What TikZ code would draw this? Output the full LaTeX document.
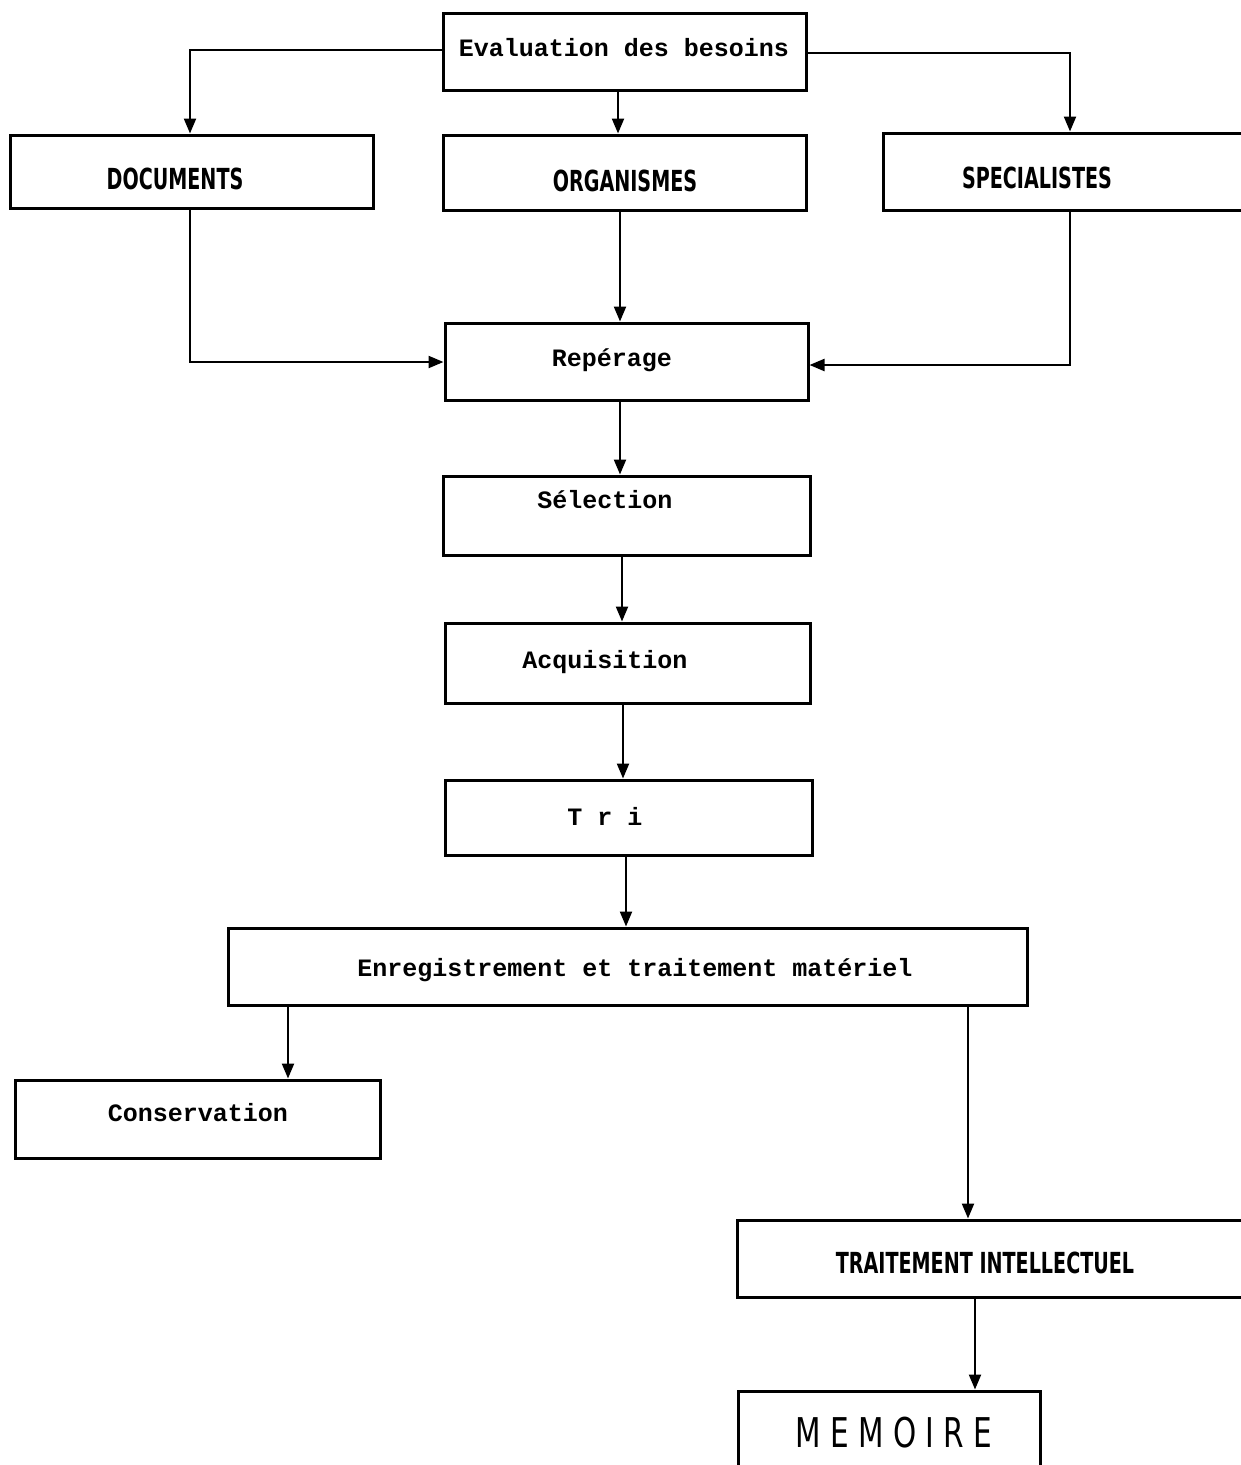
\documentclass[tikz,border=0pt]{standalone}
\usepackage{fontspec}
\usetikzlibrary{arrows.meta}
\newfontfamily\typew{Liberation Mono}
\newfontfamily\plotter[FakeStretch=0.66]{DejaVu Sans Bold}
\newfontfamily\plotterthin[FakeStretch=0.72]{DejaVu Sans}

\begin{document}
\begin{tikzpicture}[x=1pt,y=-1pt,
  box/.style={draw, line width=3pt, inner sep=0pt},
  tw/.style={font=\typew\bfseries\fontsize{25}{30}\selectfont, inner sep=0pt, anchor=base},
  pl/.style={font=\plotter\fontsize{29}{35}\selectfont, inner sep=0pt, anchor=base},
  big/.style={font=\plotterthin\fontsize{41}{48}\selectfont, inner sep=0pt, anchor=base},
  conn/.style={line width=2.2pt, -{Triangle[length=15pt,width=12pt]}},
]
\useasboundingbox (0,0) rectangle (1241,1465);
\clip (0,0) rectangle (1241,1465);

% boxes
\node[box, minimum width=363pt, minimum height=77pt] (eval) at (624.5,51.5) {};
\node[box, minimum width=363pt, minimum height=73pt] (doc)  at (191.5,171.5) {};
\node[box, minimum width=363pt, minimum height=75pt] (org)  at (624.5,172.5) {};
\node[box, minimum width=372pt, minimum height=77pt] (spec) at (1069,171.5) {};
\node[box, minimum width=363pt, minimum height=77pt] (rep)  at (626.5,361.5) {};
\node[box, minimum width=367pt, minimum height=79pt] (sel)  at (626.5,515.5) {};
\node[box, minimum width=365pt, minimum height=80pt] (acq)  at (627.5,663) {};
\node[box, minimum width=367pt, minimum height=75pt] (tri)  at (628.5,817.5) {};
\node[box, minimum width=799pt, minimum height=77pt] (enr)  at (627.5,966.5) {};
\node[box, minimum width=365pt, minimum height=78pt] (cons) at (197.5,1119) {};
\node[box, minimum width=520pt, minimum height=77pt] (ti)   at (997,1258.5) {};
\node[box, minimum width=302pt, minimum height=100pt] (mem) at (889,1441) {};

% labels
\node[tw] (tEval) at (624,56) {Evaluation des besoins};
\node[pl] (tDoc)  at (175,189) {DOCUMENTS};
\node[pl] (tOrg)  at (625,191) {ORGANISMES};
\node[pl] (tSpec) at (1037,188) {SPECIALISTES};
\node[tw] (tRep)  at (612,366) {Repérage};
\node[tw] (tSel)  at (605,508) {Sélection};
\node[tw] (tAcq)  at (605,668) {Acquisition};
\node[tw] (tTri)  at (605,825) {T r i};
\node[tw] (tEnr)  at (635,976) {Enregistrement et traitement matériel};
\node[tw] (tCons) at (198,1121) {Conservation};
\node[pl] (tTi)   at (985,1273) {TRAITEMENT INTELLECTUEL};
\node[big] (tMem) at (894,1447) {M E M O I R E};

% corner points of the bent connectors
\coordinate (c1) at (190,50);
\coordinate (c2) at (1070,53);
\coordinate (c3) at (190,362);
\coordinate (c4) at (1070,365);

% connectors
\draw[conn] (eval.west |- c1) -- (c1) -- (c1 |- doc.north);
\draw[conn] ([xshift=-6.5pt]eval.south) -- ([xshift=-6.5pt]org.north);
\draw[conn] (eval.east |- c2) -- (c2) -- (c2 |- spec.north);

\draw[conn] (c3 |- doc.south) -- (c3) -- (rep.west |- c3);
\draw[conn] ([xshift=-4.5pt]org.south) -- ([xshift=-4.5pt]org.south |- rep.north);
\draw[conn] (c4 |- spec.south) -- (c4) -- (rep.east |- c4);

\draw[conn] ([xshift=-6.5pt]rep.south) -- ([xshift=-6.5pt]rep.south |- sel.north);
\draw[conn] ([xshift=-4.5pt]sel.south) -- ([xshift=-4.5pt]sel.south |- acq.north);
\draw[conn] ([xshift=-4.5pt]acq.south) -- ([xshift=-4.5pt]acq.south |- tri.north);
\draw[conn] ([xshift=-2.5pt]tri.south) -- ([xshift=-2.5pt]tri.south |- enr.north);

\draw[conn] ([xshift=-339.5pt]enr.south) -- ([xshift=-339.5pt]enr.south |- cons.north);
\draw[conn] ([xshift=340.5pt]enr.south) -- ([xshift=340.5pt]enr.south |- ti.north);
\draw[conn] ([xshift=-22pt]ti.south) -- ([xshift=-22pt]ti.south |- mem.north);
\end{tikzpicture}
\end{document}
